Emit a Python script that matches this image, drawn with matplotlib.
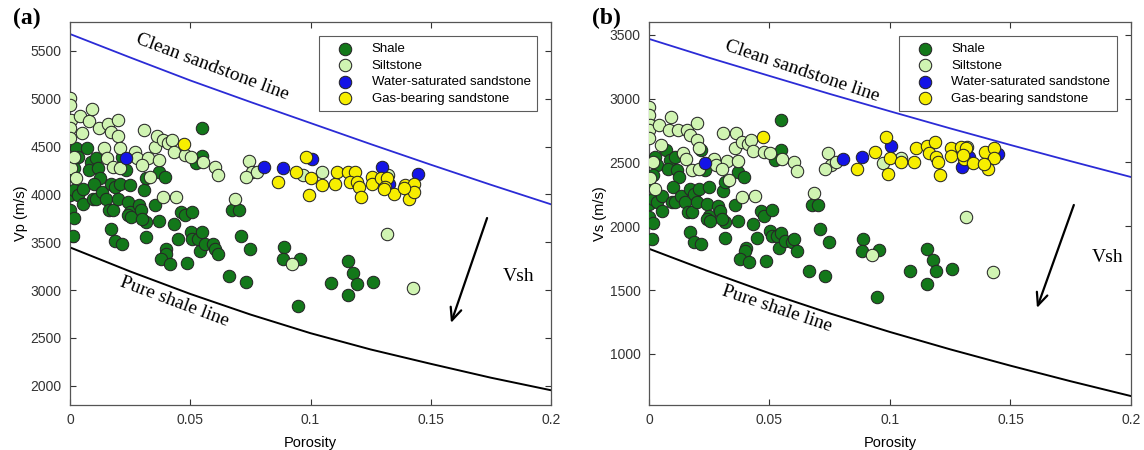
import matplotlib
matplotlib.use("Agg")
import matplotlib.pyplot as plt

# ---------------- data ----------------
# Shale samples: porosity, Vp (m/s), Vs (m/s)
shale_phi = [0.0025, 0.0032, 0.0017, 0.0000, 0.0002, 0.0017, 0.0032, 0.0055, 0.0055, 0.0000,
             0.0017, 0.0012, 0.0071, 0.0086, 0.0078, 0.0109, 0.0117, 0.0125, 0.0101, 0.0094,
             0.0109, 0.0132, 0.0148, 0.0171, 0.0186, 0.0163, 0.0178, 0.0171, 0.0186, 0.0217,
             0.0201, 0.0209, 0.0232, 0.0217, 0.0248, 0.0240, 0.0248, 0.0240, 0.0255, 0.0286,
             0.0294, 0.0317, 0.0301, 0.0317, 0.0309, 0.0317, 0.0355, 0.0370, 0.0370, 0.0394,
             0.0401, 0.0397, 0.0378, 0.0417, 0.0432, 0.0447, 0.0463, 0.0478, 0.0486, 0.0509,
             0.0501, 0.0509, 0.0532, 0.0540, 0.0547, 0.0563, 0.0593, 0.0601, 0.0616, 0.0663,
             0.0675, 0.0701, 0.0709, 0.0732, 0.0747, 0.0890, 0.0885, 0.0955, 0.0947, 0.1085,
             0.1155, 0.1178, 0.1193, 0.1155, 0.1259, 0.0547, 0.0547, 0.0524]
shale_vp = [4482, 4394, 4271, 4201, 3990, 4043, 3990, 4061, 3903, 3833,
            3752, 3562, 4482, 4342, 4254, 4377, 4271, 4166, 4113, 3955,
            3955, 4026, 3955, 4113, 4078, 3833, 3833, 3639, 3517, 3481,
            3955, 4113, 4254, 4394, 4096, 3920, 3815, 3780, 3762, 3885,
            3833, 3710, 3745, 3552, 4043, 4166, 3885, 3727, 4236, 4184,
            3429, 3376, 3324, 3271, 3692, 3534, 3815, 3780, 3288, 3815,
            3604, 3534, 3534, 3411, 3604, 3482, 3482, 3429, 3376, 3148,
            3833, 3833, 3569, 3085, 3429, 3446, 3324, 3324, 2832, 3078,
            3306, 3183, 3067, 2948, 3085, 4693, 4405, 4324]
shale_vs = [2544, 2478, 2399, 2333, 2175, 2214, 2193, 2241, 2122, 2069,
            2024, 1897, 2597, 2518, 2452, 2544, 2439, 2386, 2307, 2188,
            2188, 2241, 2188, 2294, 2254, 2109, 2109, 1956, 1876, 1858,
            2193, 2294, 2440, 2597, 2307, 2175, 2082, 2056, 2043, 2162,
            2122, 2030, 2056, 1911, 2280, 2346, 2167, 2043, 2425, 2386,
            1831, 1805, 1744, 1718, 2016, 1911, 2122, 2082, 1731, 2130,
            1964, 1924, 1924, 1831, 1950, 1884, 1876, 1897, 1805, 1647,
            2169, 2169, 1977, 1612, 1876, 1903, 1805, 1813, 1443, 1647,
            1824, 1734, 1647, 1546, 1668, 2835, 2597, 2518]

# Siltstone samples
silt_phi = [0.0000, 0.0000, 0.0003, 0.0000, 0.0000, 0.0003, 0.0040, 0.0048, 0.0081, 0.0091,
            0.0121, 0.0158, 0.0198, 0.0171, 0.0198, 0.0209, 0.0140, 0.0155, 0.0178, 0.0209,
            0.0271, 0.0278, 0.0309, 0.0324, 0.0332, 0.0301, 0.0355, 0.0363, 0.0370, 0.0386,
            0.0409, 0.0424, 0.0432, 0.0478, 0.0501, 0.0552, 0.0601, 0.0616, 0.0686, 0.0743,
            0.0755, 0.0732, 0.0778, 0.0970, 0.1047, 0.1316, 0.1428, 0.0924, 0.0386, 0.0440,
            0.0025, 0.0017, 0.1320]
silt_vp = [5009, 4938, 4780, 4693, 4587, 4271, 4815, 4640, 4770, 4896,
           4693, 4735, 4780, 4650, 4605, 4482, 4482, 4377, 4289, 4271,
           4447, 4377, 4675, 4377, 4184, 4306, 4500, 4605, 4359, 4570,
           4535, 4570, 4447, 4412, 4394, 4342, 4289, 4201, 3955, 4349,
           4236, 4184, 4236, 4201, 4236, 3587, 3025, 3271, 3973, 3973,
           4166, 4394, 4201]
silt_vs = [2932, 2874, 2795, 2755, 2690, 2378, 2790, 2637, 2755, 2856,
           2755, 2755, 2808, 2716, 2676, 2610, 2571, 2531, 2439, 2452,
           2531, 2478, 2734, 2510, 2360, 2452, 2616, 2734, 2510, 2663,
           2642, 2676, 2589, 2584, 2571, 2531, 2505, 2431, 2262, 2571,
           2484, 2452, 2505, 2492, 2536, 2069, 1642, 1773, 2227, 2241,
           2294, 2505, 2620]

# Water-saturated sandstone samples
water_phi = [0.0232, 0.0806, 0.0885, 0.1005, 0.1299, 0.1328, 0.1448]
water_vp = [4377, 4282, 4278, 4370, 4289, 4110, 4215]
water_vs = [2497, 2531, 2544, 2631, 2465, 2540, 2568]

# Gas-bearing sandstone samples
gas_phi = [0.0473, 0.0982, 0.0865, 0.0939, 0.1001, 0.0993, 0.1047, 0.1101, 0.1108, 0.1155,
           0.1185, 0.1162, 0.1193, 0.1201, 0.1208, 0.1254, 0.1254, 0.1293, 0.1316, 0.1308,
           0.1346, 0.1393, 0.1431, 0.1408, 0.1431, 0.1305, 0.1390]
gas_vp = [4524, 4387, 4131, 4229, 4166, 3990, 4096, 4113, 4229, 4236,
          4236, 4131, 4131, 4078, 3973, 4184, 4113, 4166, 4166, 4078,
          4008, 4096, 4113, 3955, 4026, 4061, 4070]
gas_vs = [2703, 2703, 2447, 2579, 2536, 2407, 2505, 2505, 2616, 2631,
          2663, 2571, 2544, 2505, 2399, 2610, 2552, 2624, 2610, 2531,
          2492, 2579, 2610, 2447, 2536, 2555, 2489]

# Bounding trend lines
line_phi = [0.0, 0.025, 0.05, 0.075, 0.10, 0.125, 0.15, 0.175, 0.20]
clean_vp = [5675, 5430, 5190, 4965, 4745, 4525, 4310, 4100, 3896]
shale_line_vp = [3446, 3195, 2960, 2745, 2550, 2380, 2230, 2085, 1954]
clean_vs = [3468, 3320, 3178, 3037, 2901, 2767, 2637, 2510, 2386]
shale_line_vs = [1824, 1645, 1475, 1318, 1172, 1036, 908, 786, 670]

# ---------------- styling ----------------
SANS = ["Liberation Sans", "DejaVu Sans"]
SERIF = ["Liberation Serif", "DejaVu Serif"]
plt.rcParams["font.family"] = SANS

groups = [
    ("Shale", "#13781a"),
    ("Siltstone", "#d0f4b2"),
    ("Water-saturated sandstone", "#1414e6"),
    ("Gas-bearing sandstone", "#f7ee00"),
]

fig = plt.figure(figsize=(11.44, 4.5), dpi=100)
ax_a = fig.add_axes([0.0612, 0.100, 0.4205, 0.851])
ax_b = fig.add_axes([0.5673, 0.100, 0.4213, 0.851])

panels = [
    dict(ax=ax_a, ys=[shale_vp, silt_vp, water_vp, gas_vp], ylim=(1800, 5800),
         yticks=[2000, 2500, 3000, 3500, 4000, 4500, 5000, 5500], ylabel="Vp (m/s)",
         clean=clean_vp, sh=shale_line_vp, tag="(a)",
         clean_xy=(0.0590, 5330), clean_rot=-20.5,
         shale_xy=(0.0432, 2875), shale_rot=-20.5,
         vsh_xy=(0.180, 3137), arrow=((0.1734, 3753), (0.1584, 2657))),
    dict(ax=ax_b, ys=[shale_vs, silt_vs, water_vs, gas_vs], ylim=(600, 3600),
         yticks=[1000, 1500, 2000, 2500, 3000, 3500], ylabel="Vs (m/s)",
         clean=clean_vs, sh=shale_line_vs, tag="(b)",
         clean_xy=(0.0635, 3215), clean_rot=-18.5,
         shale_xy=(0.0530, 1350), shale_rot=-18.5,
         vsh_xy=(0.1838, 1759), arrow=((0.1763, 2167), (0.1610, 1360))),
]
xs = [shale_phi, silt_phi, water_phi, gas_phi]

for p in panels:
    ax = p["ax"]
    for (name, color), x, y in zip(groups, xs, p["ys"]):
        ax.scatter(x, y, s=80, c=color, edgecolors="#262626", linewidths=0.75,
                   label=name, zorder=3)
    ax.plot(line_phi, p["clean"], color="#2b2bd6", lw=1.3, zorder=2)
    ax.plot(line_phi, p["sh"], color="black", lw=1.4, zorder=2)

    ax.set_xlim(0, 0.2)
    ax.set_ylim(*p["ylim"])
    ax.set_xticks([0, 0.05, 0.1, 0.15, 0.2])
    ax.set_xticklabels(["0", "0.05", "0.1", "0.15", "0.2"])
    ax.set_yticks(p["yticks"])
    ax.tick_params(direction="in", top=True, right=True, length=4, width=0.8,
                   colors="#333333", labelsize=10, pad=6)
    for sp in ax.spines.values():
        sp.set_color("#555555")
        sp.set_linewidth(0.9)
    ax.set_xlabel("Porosity", fontsize=10.5, labelpad=6)
    ax.set_ylabel(p["ylabel"], fontsize=10.5, labelpad=2)

    ax.text(*p["clean_xy"], "Clean sandstone line", family=SERIF, fontsize=14,
            rotation=p["clean_rot"], ha="center", va="center", rotation_mode="anchor")
    ax.text(*p["shale_xy"], "Pure shale line", family=SERIF, fontsize=14,
            rotation=p["shale_rot"], ha="center", va="center", rotation_mode="anchor")
    ax.text(*p["vsh_xy"], "Vsh", family=SERIF, fontsize=14, ha="left", va="center")
    (x0, y0), (x1, y1) = p["arrow"]
    ax.annotate("", xy=(x1, y1), xytext=(x0, y0),
                arrowprops=dict(arrowstyle="->,head_length=0.9,head_width=0.4",
                                color="black", lw=1.6, shrinkA=0, shrinkB=0))
    ax.text(-0.118, 1.01, p["tag"], transform=ax.transAxes, family=SERIF,
            fontsize=17, fontweight="bold", ha="left", va="center")

    leg = ax.legend(loc="upper right", bbox_to_anchor=(0.971, 0.963), borderaxespad=0,
                    frameon=True, fancybox=False, fontsize=9.5, handletextpad=0.5,
                    borderpad=0.5, labelspacing=0.33, handlelength=3.0,
                    scatterpoints=1)
    leg.get_frame().set_edgecolor("#333333")
    leg.get_frame().set_linewidth(0.8)

fig.savefig("out.png", dpi=100)
